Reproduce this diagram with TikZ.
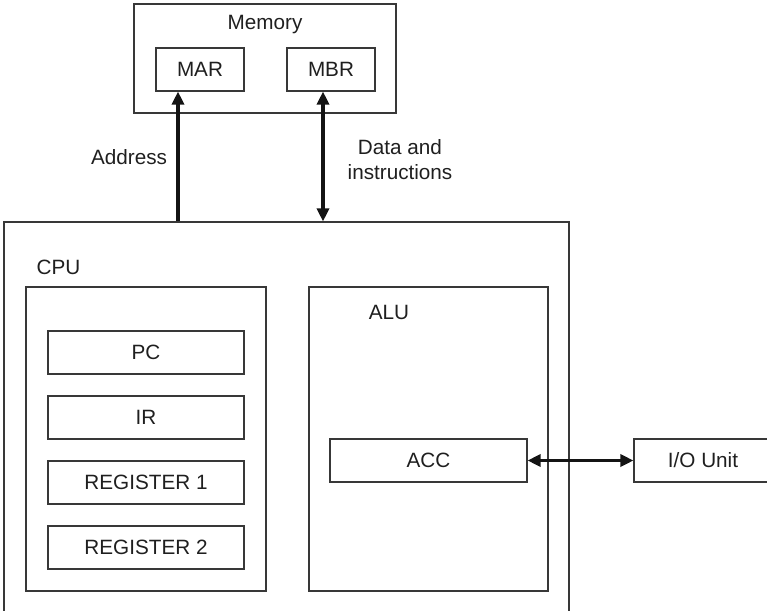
\documentclass[tikz,border=0pt]{standalone}
\usepackage{fontspec}
\setmainfont{Liberation Sans}
\usetikzlibrary{arrows.meta}
\begin{document}
\begin{tikzpicture}[x=1pt,y=-1pt,
  every node/.style={font=\fontsize{20.7}{25}\selectfont, text=black!88},
  box/.style={draw=black!78, line width=1.1pt, rectangle, inner sep=0pt},
  lbl/.style={inner sep=0pt, anchor=center, align=center},
  conn/.style={line width=3.2pt, draw=black!92, -{Triangle[length=13pt,width=12pt]}},
  conn2/.style={line width=3.2pt, draw=black!92, {Triangle[length=13pt,width=12pt]}-{Triangle[length=13pt,width=12pt]}}]
\useasboundingbox (0,0) rectangle (767,610);
\clip (0,0) rectangle (767,610);

% Memory
\node[box, minimum width=262pt, minimum height=109pt] (mem) at (265,58.5) {};
\node[lbl] (memlbl) at (265,25) {Memory};
\node[box, minimum width=88pt, minimum height=43pt] (mar) at (200,69.5) {MAR};
\node[box, minimum width=88pt, minimum height=43pt] (mbr) at (331,69.5) {MBR};

% CPU
\node[box, minimum width=565pt, minimum height=418pt] (cpu) at (286.5,431) {};
\node[lbl] (cpulbl) at (58.5,267) {CPU};

% registers block
\node[box, minimum width=240pt, minimum height=304pt] (regs) at (146,439) {};
\node[box, minimum width=196pt, minimum height=43pt] (pc) at (146,352.5) {PC};
\node[box, minimum width=196pt, minimum height=43pt] (ir) at (146,417.5) {IR};
\node[box, minimum width=196pt, minimum height=43pt] (r1) at (146,482.5) {REGISTER 1};
\node[box, minimum width=196pt, minimum height=43pt] (r2) at (146,547.5) {REGISTER 2};

% ALU
\node[box, minimum width=239pt, minimum height=304pt] (alu) at (428.5,439) {};
\node[lbl] (alulbl) at (389,312) {ALU};
\node[box, minimum width=197pt, minimum height=43pt] (acc) at (428.5,460.5) {ACC};

% I/O
\node[box, minimum width=138pt, minimum height=43pt] (io) at (703,460.5) {I/O Unit};

% labels
\node[lbl] (addr) at (129,157) {Address};
\node[lbl] (data) at (400,159.5) {Data and\\instructions};

% connectors
\coordinate (ax) at (178,0);
\coordinate (dx) at (323,0);
\draw[conn] (cpu.north -| ax) -- (mar.south -| ax);
\draw[conn2] (cpu.north -| dx) -- (mbr.south -| dx);
\draw[conn2] (acc.east) -- (io.west);
\end{tikzpicture}
\end{document}
